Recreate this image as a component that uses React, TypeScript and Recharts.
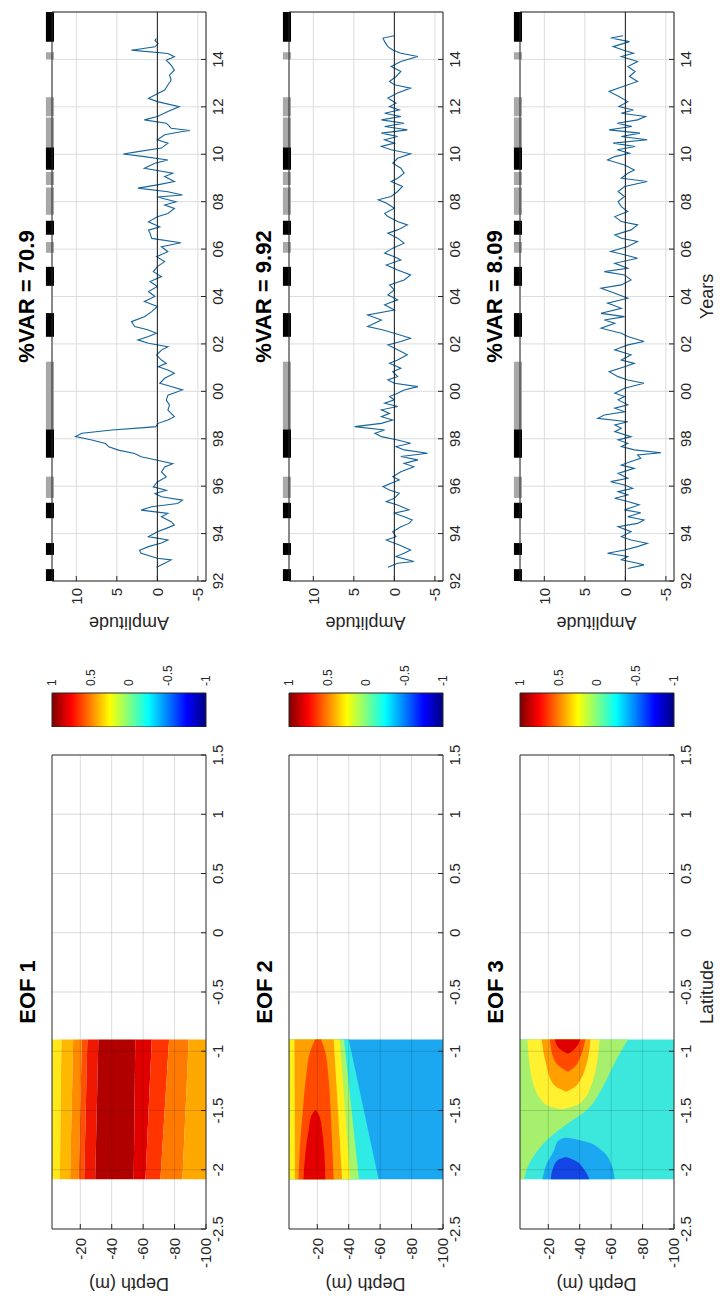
import React from 'react';
import {
  ComposedChart,
  Area,
  Line,
  XAxis,
  YAxis,
  CartesianGrid,
  ReferenceLine,
  ReferenceArea,
} from 'recharts';

const FONT = '"Liberation Sans", Arial, Helvetica, sans-serif';
const INK = '#262626';

// Landscape figure size; the whole figure is turned a quarter turn for display.
const FIG_W = 1298;
const FIG_H = 720;

const rowTops = [52, 288.5, 519.5];
const ROW_H = 154;
const CONTOUR = { x: 69, w: 474 };
const CBAR = { x: 571, w: 34 };
const SERIES = { x: 717, w: 569 };

const eofTitles = ['EOF 1', 'EOF 2', 'EOF 3'];
const varTitles = ['%VAR = 70.9', '%VAR = 9.92', '%VAR = 8.09'];

const latTicks = [-2.5, -2, -1.5, -1, -0.5, 0, 0.5, 1, 1.5];
const depthTicks = [-100, -80, -60, -40, -20];
const yearTicks = [1992, 1994, 1996, 1998, 2000, 2002, 2004, 2006, 2008, 2010, 2012, 2014];
const ampTicks = [-5, 0, 5, 10];
const cbarTicks = [-1, -0.5, 0, 0.5, 1];

// ENSO phases shown along the top of each amplitude panel: [start, end, phase]
const ensoEvents: [number, number, string][] = [
  [1992.0, 1992.5, 'nino'],
  [1993.1, 1993.6, 'nino'],
  [1994.65, 1995.3, 'nino'],
  [1995.5, 1996.4, 'nina'],
  [1997.2, 1998.4, 'nino'],
  [1998.4, 2001.25, 'nina'],
  [2002.3, 2003.3, 'nino'],
  [2004.45, 2005.25, 'nino'],
  [2005.85, 2006.3, 'nina'],
  [2006.6, 2007.2, 'nino'],
  [2007.45, 2008.6, 'nina'],
  [2008.7, 2009.25, 'nina'],
  [2009.35, 2010.3, 'nino'],
  [2010.3, 2011.55, 'nina'],
  [2011.6, 2012.4, 'nina'],
  [2014.0, 2014.3, 'nina'],
  [2014.75, 2016.0, 'nino'],
];

// Principal component amplitudes: [decimal year, amplitude]
const pc1: [number, number][] = [
  [1992.58, 0.1], [1992.75, -0.9], [1992.89, -1.7], [1992.96, 0], [1993.17, 2.0], [1993.3, 2.2],
  [1993.45, 1.1], [1993.6, -0.5], [1993.73, -1.3], [1993.87, 1.1], [1994.08, 0], [1994.22, -1.1],
  [1994.36, -2.1], [1994.5, -1.7], [1994.71, -0.5], [1994.85, -1.3], [1994.99, 2.0], [1995.13, 0.7],
  [1995.27, -2.5], [1995.41, -3.1], [1995.55, -0.5], [1995.69, 0.3], [1995.83, -1.1], [1995.97, 0.5],
  [1996.18, 0], [1996.39, -1.1], [1996.6, -0.5], [1996.81, -0.9], [1996.95, -1.9], [1997.09, 0],
  [1997.24, 2.0], [1997.38, 2.8], [1997.52, 4.8], [1997.66, 6.0], [1997.8, 6.4], [1997.95, 8.1],
  [1998.09, 10.1], [1998.23, 9.3], [1998.37, 5.6], [1998.47, 1.6], [1998.51, 0.2], [1998.65, -0.1],
  [1998.79, -1.3], [1998.93, -2.1], [1999.07, -1.7], [1999.21, -1.3], [1999.42, -1.5], [1999.63, -1.1],
  [1999.84, -1.3], [2000.06, -3.1], [2000.2, -1.7], [2000.34, -0.3], [2000.55, -0.9], [2000.76, -2.1],
  [2000.9, -1.3], [2001.04, -0.1], [2001.18, -1.1], [2001.32, -0.5], [2001.53, 0.1], [2001.74, -0.5],
  [2001.88, -1.3], [2002.03, 1.1], [2002.17, 2.4], [2002.31, 1.1], [2002.45, 0.1], [2002.6, 1.2],
  [2002.73, 2.8], [2002.94, 3.2], [2003.15, 1.6], [2003.36, 0.7], [2003.58, 0], [2003.79, 1.6],
  [2004.0, 0.3], [2004.21, 1.1], [2004.42, 0], [2004.63, 0.9], [2004.84, -0.5], [2005.05, 0.5],
  [2005.26, 0], [2005.47, -0.9], [2005.68, 0.1], [2005.89, -1.3], [2006.1, -0.5], [2006.27, -2.9],
  [2006.45, 0.7], [2006.66, 0.9], [2006.8, 1.1], [2006.94, -0.3], [2007.15, 1.1], [2007.36, 0],
  [2007.5, -1.3], [2007.71, -2.1], [2007.86, -0.9], [2008.0, -2.3], [2008.2, 0], [2008.28, -3.1],
  [2008.42, -1.3], [2008.57, 2.4], [2008.71, 0], [2008.85, -2.1], [2009.06, -0.9], [2009.2, -1.9],
  [2009.41, 1.6], [2009.62, 0.3], [2009.76, -1.3], [2009.9, 1.6], [2010.01, 4.2], [2010.11, 2.4],
  [2010.26, -0.5], [2010.47, -1.3], [2010.61, 0], [2010.82, -0.9], [2010.96, -3.1], [2011.0, -4.0],
  [2011.1, -1.7], [2011.31, -1.1], [2011.45, 1.6], [2011.59, 0], [2011.8, -1.3], [2012.01, -2.7],
  [2012.22, 0], [2012.36, 1.1], [2012.5, 0.3], [2012.71, -0.9], [2012.92, -1.3], [2013.13, -1.7],
  [2013.34, -1.5], [2013.55, -2.1], [2013.76, -1.7], [2013.97, -1.1], [2014.11, -2.1], [2014.25, -1.3],
  [2014.39, 3.2], [2014.53, 0.3], [2014.67, -0.1], [2014.81, 0.3], [2014.88, 0.1],
];

const pc2: [number, number][] = [
  [1992.58, 0.8], [1992.75, -0.4], [1992.82, -2.4], [1993.03, -0.2], [1993.17, -1.2], [1993.31, -2.0],
  [1993.52, -0.6], [1993.73, 1.0], [1993.87, -0.2], [1994.08, 0.2], [1994.29, -0.8], [1994.43, -1.8],
  [1994.57, -2.2], [1994.71, -1.2], [1994.86, 0], [1995.0, -1.8], [1995.21, -0.4], [1995.35, 1.0],
  [1995.49, 0], [1995.7, -0.6], [1995.84, 0.6], [1995.98, 1.4], [1996.12, 0.4], [1996.26, -0.6],
  [1996.4, 0.2], [1996.61, -0.8], [1996.82, -2.4], [1996.96, -1.2], [1997.11, -2.9], [1997.25, -0.8],
  [1997.39, -4.1], [1997.53, -1.2], [1997.67, -0.2], [1997.81, -2.0], [1997.95, -0.4], [1998.09, 1.6],
  [1998.23, 2.4], [1998.37, 1.2], [1998.51, 4.9], [1998.65, 1.6], [1998.79, 0.2], [1998.93, 1.6],
  [1999.07, 0.6], [1999.22, 1.6], [1999.36, -0.4], [1999.5, 1.2], [1999.64, 0], [1999.78, 0.6],
  [1999.92, -0.4], [2000.06, -1.2], [2000.2, -2.9], [2000.34, 0], [2000.48, 0.8], [2000.62, -0.4],
  [2000.83, 0.2], [2000.97, -0.8], [2001.18, 0.6], [2001.32, -0.4], [2001.54, -1.6], [2001.75, -0.4],
  [2001.96, 0.8], [2002.1, -0.8], [2002.24, -2.0], [2002.45, 0], [2002.6, 1.5], [2002.73, 3.3],
  [2003.01, 1.6], [2003.22, 3.3], [2003.43, 0], [2003.65, 1.2], [2003.86, -0.4], [2004.07, 0.8],
  [2004.28, 0], [2004.49, 0.6], [2004.7, -1.2], [2004.91, -2.0], [2005.12, -0.4], [2005.33, 1.0],
  [2005.54, -0.8], [2005.68, 0], [2005.83, 1.2], [2006.04, 0.2], [2006.25, -1.2], [2006.46, -0.4],
  [2006.67, 0.8], [2006.81, -0.4], [2007.02, -1.6], [2007.16, -0.4], [2007.37, 0.8], [2007.51, 1.2],
  [2007.72, 0], [2007.94, 1.0], [2008.08, 2.0], [2008.22, 0.4], [2008.43, -0.4], [2008.64, -1.0],
  [2008.85, 0.4], [2008.99, -0.4], [2009.2, -1.2], [2009.41, -0.8], [2009.62, 0.2], [2009.83, -0.4],
  [2010.02, -2.0], [2010.19, 0.4], [2010.33, 1.6], [2010.47, 0], [2010.61, 1.2], [2010.75, -0.4],
  [2010.89, 1.6], [2011.03, -1.6], [2011.17, 1.2], [2011.31, -1.2], [2011.45, 1.6], [2011.59, -0.8],
  [2011.73, 1.2], [2011.87, -0.6], [2012.01, 0.6], [2012.15, -0.2], [2012.37, 0.8], [2012.58, -0.4],
  [2012.79, -2.0], [2012.93, 0], [2013.07, 0.6], [2013.28, -0.2], [2013.49, -0.8], [2013.7, 0.4],
  [2013.91, -0.8], [2014.12, -2.9], [2014.26, -0.8], [2014.4, 0.2], [2014.54, 0.8], [2014.75, 1.2],
  [2014.9, 1.4], [2015.0, 0],
];

const pc3: [number, number][] = [
  [1992.53, -0.3], [1992.68, -2.3], [1992.75, -1.5], [1992.89, 0.5], [1993.03, -0.3], [1993.17, 2.2],
  [1993.31, 0.1], [1993.45, -1.5], [1993.59, -2.7], [1993.73, -0.7], [1993.87, 0.5], [1994.08, -0.7],
  [1994.29, 0.9], [1994.43, -1.5], [1994.57, -2.3], [1994.71, -0.3], [1994.88, -1.9], [1995.0, 0.1],
  [1995.21, -1.7], [1995.35, -0.3], [1995.49, 1.3], [1995.63, -0.3], [1995.77, 0.9], [1995.91, -0.9],
  [1996.05, 0.1], [1996.19, 1.8], [1996.33, -0.3], [1996.54, 0.9], [1996.75, -1.1], [1996.89, 0.5],
  [1997.04, -0.7], [1997.18, -1.9], [1997.32, -1.5], [1997.41, -4.4], [1997.53, -1.1], [1997.67, 0.5],
  [1997.81, -0.3], [1997.95, 0.9], [1998.09, -0.7], [1998.3, 1.3], [1998.44, 0.5], [1998.58, 1.3],
  [1998.72, -0.3], [1998.86, 3.4], [1999.0, 2.6], [1999.14, 0.1], [1999.29, 1.3], [1999.43, -0.3],
  [1999.64, 0.9], [1999.78, 0.1], [1999.92, 1.3], [2000.13, 0.1], [2000.34, -2.3], [2000.48, -0.3],
  [2000.62, 0.9], [2000.83, 2.0], [2001.04, 0.1], [2001.18, -1.1], [2001.32, 0.5], [2001.54, -0.7],
  [2001.75, 1.3], [2001.96, -0.3], [2002.1, -2.3], [2002.31, -0.3], [2002.45, 0.5], [2002.66, 3.0],
  [2002.87, 1.3], [2003.01, 2.6], [2003.15, 0.1], [2003.29, 3.0], [2003.5, 0.5], [2003.72, 2.2],
  [2003.93, -0.3], [2004.14, 1.3], [2004.35, 3.0], [2004.49, 0.5], [2004.7, -0.7], [2004.91, 0.1],
  [2005.05, 2.6], [2005.19, -0.3], [2005.4, 1.3], [2005.61, -1.5], [2005.76, 0.1], [2005.9, 1.8],
  [2006.11, -0.3], [2006.32, -1.5], [2006.46, 0.5], [2006.6, 1.3], [2006.81, -0.7], [2007.02, -1.5],
  [2007.16, 0.5], [2007.37, 1.3], [2007.58, -0.3], [2007.79, 0.5], [2008.0, 0.9], [2008.22, 0.1],
  [2008.43, 0.9], [2008.64, 0.1], [2008.85, -2.7], [2008.99, 0.5], [2009.2, -0.3], [2009.34, -1.1],
  [2009.55, 0.1], [2009.76, 2.2], [2009.9, 1.3], [2010.04, -0.5], [2010.19, 1.0], [2010.33, -1.2],
  [2010.47, 1.5], [2010.61, -2.7], [2010.75, 0.5], [2010.89, -1.8], [2011.03, 2.0], [2011.17, -0.8],
  [2011.31, 1.0], [2011.45, -1.5], [2011.59, -2.5], [2011.73, 0.5], [2011.87, -1.0], [2012.01, 0.8],
  [2012.22, -0.3], [2012.44, 0.8], [2012.65, 2.0], [2012.86, 0.3], [2013.07, -1.5], [2013.28, -0.5],
  [2013.49, -1.2], [2013.7, -0.3], [2013.91, -1.5], [2014.12, 0.5], [2014.26, -1.0], [2014.4, 0.3],
  [2014.54, 1.5], [2014.75, -0.5], [2014.9, 1.8], [2015.0, 0.3],
];

// EOF 1: straight contour edges, depth at latitude -2.08 and -0.9
const eof1Lats = [-2.08, -0.9];
const eof1Edges = [
  [-2, -2], [-7, -8], [-13.5, -15.5], [-19, -21], [-22.5, -24.5], [-29.5, -31.5],
  [-54, -55], [-61.5, -65.5], [-71, -76.5], [-85, -89], [-100, -100],
];
const eof1Colors = [
  '#FFE81A', '#FFB800', '#FF8C00', '#FF5200', '#F01800',
  '#B00000', '#E00000', '#FF3400', '#FF7A00', '#FFA800',
];

// EOF 2 / EOF 3 filled regions, painted back to front: [lat, lower depth, upper depth]
const eof2Regions: { color: string; pts: number[][] }[] = [
  { color: '#1CA8F0', pts: [[-2.08, -100, -2], [-0.9, -100, -2]] },
  { color: '#2EEBE6', pts: [[-2.08, -59, -2], [-0.9, -40, -2]] },
  { color: '#A6F56A', pts: [[-2.08, -46.5, -2], [-0.9, -37, -2]] },
  { color: '#FFF01A', pts: [[-2.08, -41, -2], [-0.9, -34.3, -2]] },
  { color: '#FFA000', pts: [[-2.08, -35.8, -5.8], [-0.9, -30.4, -5.5]] },
  { color: '#FF4A00', pts: [[-2.08, -30.4, -8], [-1.8, -29.5, -9], [-1.5, -28.5, -10.8], [-1.2, -27, -13], [-1.0, -25, -15.5], [-0.9, -22.5, -18.5]] },
  { color: '#E40000', pts: [[-2.08, -25.1, -11.2], [-1.85, -24.5, -12.5], [-1.665, -23, -14.5], [-1.55, -21.5, -16], [-1.495, -19, -18.5]] },
];

const eof3Regions: { color: string; pts: number[][] }[] = [
  { color: '#3CE8DC', pts: [[-2.08, -100, -2], [-0.9, -100, -2]] },
  { color: '#A6F06E', pts: [[-2.08, -4.6, -2], [-1.95, -7.8, -2], [-1.84, -13.1, -2], [-1.72, -21.6, -2], [-1.61, -32.3, -2], [-1.5, -44.1, -2], [-1.3, -54.7, -2], [-1.1, -62.2, -2], [-0.9, -70.7, -2]] },
  { color: '#FFF030', pts: [[-1.49, -29, -28], [-1.46, -37, -20], [-1.4, -43, -15], [-1.3, -47, -11], [-1.1, -51, -8], [-0.9, -52.6, -6.7]] },
  { color: '#FFA000', pts: [[-1.34, -32, -31], [-1.3, -37, -25], [-1.25, -40, -22], [-1.1, -44.5, -18.5], [-0.9, -46.8, -15.7]] },
  { color: '#FF4A00', pts: [[-1.17, -33, -32], [-1.12, -37.5, -26.5], [-1.05, -40.3, -23.1], [-0.9, -43.6, -21]] },
  { color: '#E00000', pts: [[-1.02, -33, -32], [-0.97, -37.5, -26.5], [-0.9, -40.3, -24.2]] },
  { color: '#1CA8F0', pts: [[-2.08, -62.2, -16.3], [-1.95, -60, -19], [-1.84, -54.2, -23.6], [-1.76, -43, -26], [-1.73, -33, -30]] },
  { color: '#1446E6', pts: [[-2.08, -46.1, -21.6], [-2.0, -42.9, -22.7], [-1.92, -36.6, -25.9], [-1.895, -32, -30.5]] },
];

// MATLAB "jet" colormap, top of bar = +1
const jetStops = [
  [0, '#800000'], [0.125, '#FF0000'], [0.375, '#FFFF00'], [0.5, '#80FF80'],
  [0.625, '#00FFFF'], [0.875, '#0000FF'], [1, '#000080'],
];
const cbarRange = [
  { x: 0, r: [-1, 1] },
  { x: 1, r: [-1, 1] },
];

type Band = { color: string; curve: 'linear' | 'monotone'; pts: number[][] };

const eof1Bands: Band[] = eof1Colors.map((color, i) => ({
  color,
  curve: 'linear',
  pts: eof1Lats.map((lat, j) => [lat, eof1Edges[i + 1][j], eof1Edges[i][j]]),
}));
const sorted = (pts: number[][]) => [...pts].sort((a, b) => a[0] - b[0]);
const eof2Bands: Band[] = eof2Regions.map((r) => ({ color: r.color, curve: 'monotone', pts: sorted(r.pts) }));
const eof3Bands: Band[] = eof3Regions.map((r) => ({ color: r.color, curve: 'monotone', pts: sorted(r.pts) }));
const allBands = [eof1Bands, eof2Bands, eof3Bands];
const allSeries = [pc1, pc2, pc3];

const tickFont = { fontSize: 15, fill: INK, fontFamily: FONT };
const yearLabel = (v: number) => String(Math.round(v) % 100).padStart(2, '0');
const MARGIN = { top: 10, right: 10, bottom: 0, left: 0 };
const CBAR_MARGIN = { top: 12, right: 10, bottom: 12, left: 0 };

function ContourPanel({ top, bands }: { top: number; bands: Band[] }) {
  const lw = 60;
  const bh = 40;
  const width = MARGIN.left + lw + CONTOUR.w + 1 + MARGIN.right;
  const height = MARGIN.top + 1 + ROW_H + bh + MARGIN.bottom;
  return (
    <div style={{ position: 'absolute', left: CONTOUR.x - MARGIN.left - lw, top: top - MARGIN.top - 1 }}>
      <ComposedChart width={width} height={height} margin={MARGIN}>
        <XAxis type="number" dataKey="lat" domain={[-2.5, 1.5]} ticks={latTicks} interval={0} height={bh}
          tickSize={-5} tickMargin={11} tick={tickFont} stroke={INK} allowDataOverflow />
        <XAxis xAxisId="t" orientation="top" type="number" dataKey="lat" domain={[-2.5, 1.5]} ticks={latTicks}
          interval={0} height={1} tickSize={-5} tick={false} stroke={INK} allowDataOverflow />
        <YAxis type="number" domain={[-100, -2]} ticks={depthTicks} interval={0} width={lw}
          tickSize={-5} tickMargin={14} tick={tickFont} stroke={INK} allowDataOverflow />
        <YAxis yAxisId="r" orientation="right" type="number" domain={[-100, -2]} ticks={depthTicks} interval={0}
          width={1} tickSize={-5} tick={false} stroke={INK} allowDataOverflow />
        {bands.map((b, i) => (
          <Area
            key={i}
            data={b.pts.map(([lat, lo, hi]) => ({ lat, range: [lo, hi] }))}
            dataKey="range"
            type={b.curve}
            fill={b.color}
            fillOpacity={1}
            stroke="none"
            isAnimationActive={false}
            activeDot={false}
          />
        ))}
        {latTicks.slice(1, -1).map((v) => (
          <ReferenceLine key={`x${v}`} x={v} stroke="#000" strokeOpacity={0.14} />
        ))}
        {depthTicks.slice(1).map((v) => (
          <ReferenceLine key={`y${v}`} y={v} stroke="#000" strokeOpacity={0.14} />
        ))}
      </ComposedChart>
    </div>
  );
}

function ColorbarPanel({ top, id }: { top: number; id: string }) {
  const rw = 40;
  const width = CBAR_MARGIN.left + CBAR.w + rw + CBAR_MARGIN.right;
  const height = CBAR_MARGIN.top + ROW_H + CBAR_MARGIN.bottom;
  return (
    <div style={{ position: 'absolute', left: CBAR.x - CBAR_MARGIN.left, top: top - CBAR_MARGIN.top }}>
      <ComposedChart width={width} height={height} margin={CBAR_MARGIN}>
        <defs>
          <linearGradient id={id} x1="0" y1="0" x2="0" y2="1">
            {jetStops.map(([o, c]) => (
              <stop key={String(o)} offset={o as number} stopColor={c as string} />
            ))}
          </linearGradient>
        </defs>
        <XAxis type="number" dataKey="x" domain={[0, 1]} hide allowDataOverflow />
        <YAxis orientation="right" type="number" domain={[-1, 1]} ticks={cbarTicks} interval={0} width={rw}
          tickSize={-3} tickMargin={10} axisLine={false} tickLine={false} allowDataOverflow
          tick={{ ...tickFont, fontSize: 12 }} />
        <Area data={cbarRange} dataKey="r" type="linear" fill={`url(#${id})`} fillOpacity={1} stroke="none"
          isAnimationActive={false} activeDot={false} />
        <ReferenceArea x1={0} x2={1} y1={-1} y2={1} fill="none" stroke={INK} strokeWidth={1} />
      </ComposedChart>
    </div>
  );
}

function SeriesPanel({ top, series }: { top: number; series: [number, number][] }) {
  const lw = 50;
  const bh = 40;
  const width = MARGIN.left + lw + SERIES.w + 1 + MARGIN.right;
  const height = MARGIN.top + 1 + ROW_H + bh + MARGIN.bottom;
  const rows = series.map(([t, v]) => ({ t, v }));
  return (
    <div style={{ position: 'absolute', left: SERIES.x - MARGIN.left - lw, top: top - MARGIN.top - 1 }}>
      <ComposedChart width={width} height={height} margin={MARGIN}>
        <CartesianGrid stroke="#dcdcdc" />
        <XAxis type="number" dataKey="t" domain={[1992, 2016]} ticks={yearTicks} interval={0} height={bh}
          tickFormatter={yearLabel} tickSize={-5} tickMargin={11} tick={tickFont} stroke={INK} allowDataOverflow />
        <XAxis xAxisId="t" orientation="top" type="number" dataKey="t" domain={[1992, 2016]} ticks={yearTicks}
          interval={0} height={1} tickSize={-5} tick={false} stroke={INK} allowDataOverflow />
        <YAxis type="number" domain={[-6, 13]} ticks={ampTicks} interval={0} width={lw}
          tickSize={-5} tickMargin={12} tick={tickFont} stroke={INK} allowDataOverflow />
        <YAxis yAxisId="r" orientation="right" type="number" domain={[-6, 13]} ticks={ampTicks} interval={0}
          width={1} tickSize={-5} tick={false} stroke={INK} allowDataOverflow />
        <Line data={rows} dataKey="v" type="linear" stroke="#15649C" strokeWidth={1.1} dot={false}
          activeDot={false} isAnimationActive={false} />
        <ReferenceLine y={0} stroke="#1a1a1a" strokeWidth={1} />
        {ensoEvents.map(([a, b, phase], i) => (
          <ReferenceArea key={i} x1={a} x2={b} y1={12.75} y2={13.75} ifOverflow="visible"
            fill={phase === 'nino' ? '#000000' : '#A8A8A8'} fillOpacity={1} stroke="none" />
        ))}
      </ComposedChart>
    </div>
  );
}

function Labels() {
  const mid = (t: number) => t + ROW_H / 2;
  const cx = CONTOUR.x + CONTOUR.w / 2;
  const sx = SERIES.x + SERIES.w / 2;
  return (
    <svg width={FIG_W} height={FIG_H} style={{ position: 'absolute', left: 0, top: 0, pointerEvents: 'none' }}
      fontFamily={FONT} fill={INK}>
      {rowTops.map((t, i) => (
        <g key={i}>
          <text x={cx} y={t - 17} textAnchor="middle" fontSize={22} fontWeight="bold" fill="#000">{eofTitles[i]}</text>
          <text x={sx} y={t - 18} textAnchor="middle" fontSize={22} fontWeight="bold" fill="#000">{varTitles[i]}</text>
          <text transform={`translate(20 ${mid(t)}) rotate(-90)`} textAnchor="middle" fontSize={18}>Depth (m)</text>
          <text transform={`translate(681 ${mid(t)}) rotate(-90)`} textAnchor="middle" fontSize={18}>Amplitude</text>
        </g>
      ))}
      <text x={cx} y={713} textAnchor="middle" fontSize={18}>Latitude</text>
      <text x={sx} y={713} textAnchor="middle" fontSize={18}>Years</text>
    </svg>
  );
}

export default function App() {
  return (
    <div style={{ position: 'absolute', left: 0, top: 0, width: FIG_H, height: FIG_W, overflow: 'hidden', background: '#fff' }}>
      <div
        style={{
          position: 'absolute',
          left: 0,
          top: 0,
          width: FIG_W,
          height: FIG_H,
          background: '#fff',
          transformOrigin: '0 0',
          transform: `translate(0px, ${FIG_W}px) rotate(-90deg)`,
        }}
      >
        {rowTops.map((t, i) => (
          <React.Fragment key={i}>
            <ContourPanel top={t} bands={allBands[i]} />
            <ColorbarPanel top={t} id={`jet${i}`} />
            <SeriesPanel top={t} series={allSeries[i]} />
          </React.Fragment>
        ))}
        <Labels />
      </div>
    </div>
  );
}
